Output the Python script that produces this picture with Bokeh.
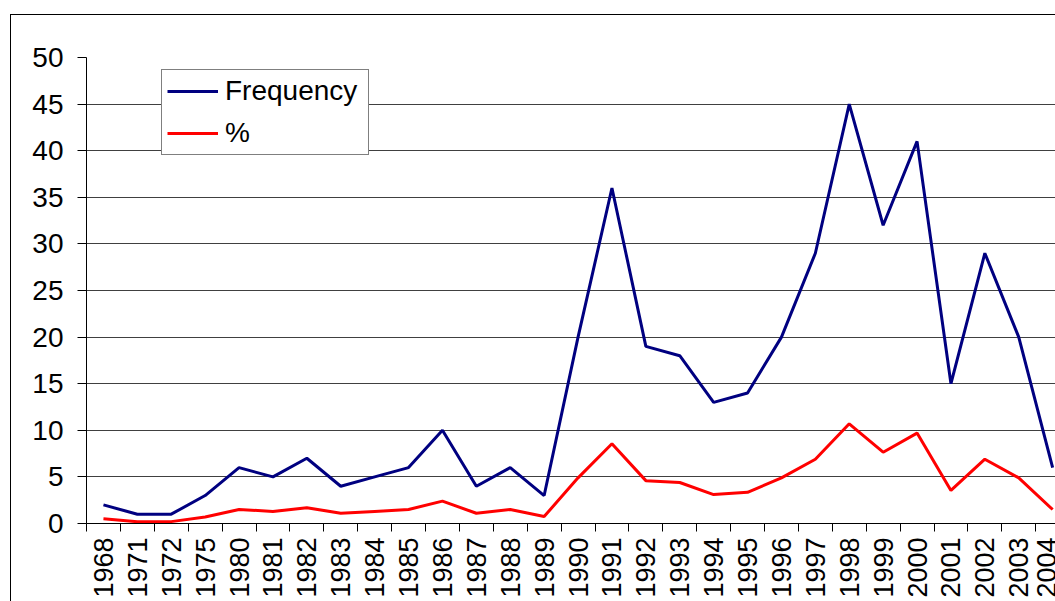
import math
from bokeh.plotting import figure
from bokeh.models import FixedTicker, Range1d, Legend, LegendItem, InlineStyleSheet
from bokeh.embed import file_html
from bokeh.resources import INLINE

years = ["1968", "1971", "1972", "1975", "1980", "1981", "1982", "1983", "1984",
         "1985", "1986", "1987", "1988", "1989", "1990", "1991", "1992", "1993",
         "1994", "1995", "1996", "1997", "1998", "1999", "2000", "2001", "2002",
         "2003", "2004"]
frequency = [2, 1, 1, 3, 6, 5, 7, 4, 5, 6, 10, 4, 6, 3, 20, 36, 19, 18, 13, 14,
             20, 29, 45, 32, 41, 15, 29, 20, 6]
percent = [0.5, 0.2, 0.2, 0.7, 1.5, 1.3, 1.7, 1.1, 1.3, 1.5, 2.4, 1.1, 1.5, 0.75,
           4.9, 8.55, 4.6, 4.4, 3.1, 3.35, 4.9, 6.9, 10.7, 7.65, 9.7, 3.55, 6.9,
           4.9, 1.5]
y_ticks = [0, 5, 10, 15, 20, 25, 30, 35, 40, 45, 50]

idx = list(range(len(years)))
FONT = "Liberation Sans"

frame_css = InlineStyleSheet(css="""
:host { position: relative; }
:host::after {
  content: ''; position: absolute; left: 10px; top: 14px; right: -20px; bottom: -20px;
  border-left: 1px solid black; border-top: 1px solid black;
  pointer-events: none; z-index: 5;
}
""")

p = figure(width=1055, height=601, output_backend="svg", toolbar_location=None,
           x_range=Range1d(-0.5, -0.5 + 969 / 33.9), y_range=Range1d(0, 50),
           min_border_left=86, min_border_top=57, min_border_right=0,
           min_border_bottom=78, stylesheets=[frame_css])
p.outline_line_color = None
p.background_fill_color = "white"
p.border_fill_color = "white"

l1 = p.line(idx, frequency, line_color="#000080", line_width=3)
l2 = p.line(idx, percent, line_color="#FF0000", line_width=3)

# x axis: tick marks between categories, labels at category centres
xa = p.xaxis[0]
xa.ticker = FixedTicker(ticks=idx, minor_ticks=[i - 0.5 for i in range(len(years) + 1)])
xa.major_label_overrides = {i: y for i, y in enumerate(years)}
xa.major_tick_out = 0
xa.major_tick_in = 0
xa.minor_tick_out = 8
xa.minor_tick_in = 0
xa.minor_tick_line_color = "black"
xa.axis_line_color = "black"
xa.major_label_orientation = math.pi / 2
xa.major_label_text_font = FONT
xa.major_label_text_font_size = "27px"
xa.major_label_text_color = "black"
xa.major_label_standoff = 6

ya = p.yaxis[0]
ya.ticker = FixedTicker(ticks=y_ticks)
ya.major_tick_out = 9
ya.major_tick_in = 0
ya.minor_tick_out = 0
ya.minor_tick_in = 0
ya.axis_line_color = "black"
ya.major_tick_line_color = "black"
ya.major_label_text_font = FONT
ya.major_label_text_font_size = "28px"
ya.major_label_text_color = "black"
ya.major_label_standoff = 14

p.xgrid.grid_line_color = None
p.ygrid.grid_line_color = "#404040"
p.ygrid.grid_line_width = 1

legend = Legend(items=[LegendItem(label="Frequency", renderers=[l1]),
                       LegendItem(label="%", renderers=[l2])],
                location=(75, 368))
legend.label_text_font = FONT
legend.label_text_font_size = "28px"
legend.label_text_color = "black"
legend.label_height = 32
legend.glyph_height = 32
legend.glyph_width = 51
legend.label_width = 138
legend.label_standoff = 7
legend.spacing = 10
legend.padding = 5
legend.margin = 0
legend.border_line_color = "black"
legend.border_line_width = 1
legend.background_fill_color = "white"
legend.background_fill_alpha = 1
p.add_layout(legend, "center")

open("out.html", "w").write(file_html(p, INLINE))
